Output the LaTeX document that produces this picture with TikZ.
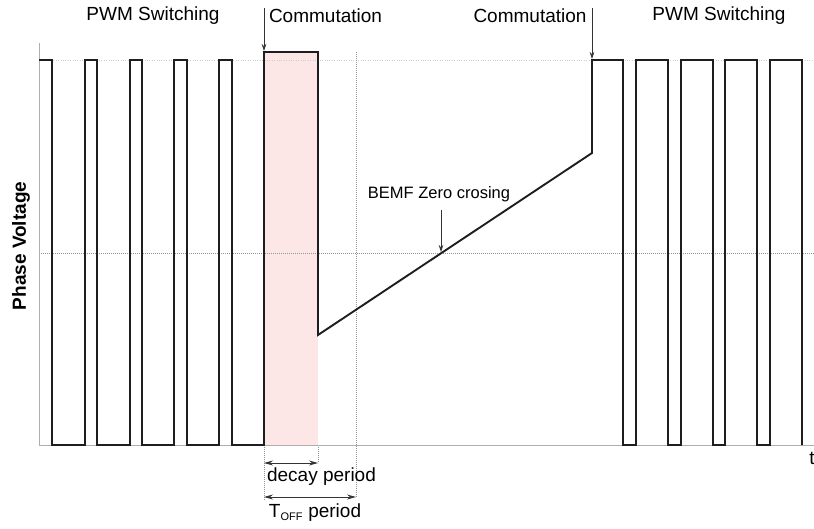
\documentclass[tikz,border=0pt]{standalone}
\usepackage{fontspec}
\setmainfont{Liberation Sans}
\usetikzlibrary{arrows.meta}
\definecolor{decaypink}{RGB}{253,230,230}
\definecolor{axisgray}{RGB}{175,175,175}
\definecolor{wave}{RGB}{30,30,30}
\begin{document}
\begin{tikzpicture}[x=1pt,y=-1pt,
  label/.style={font=\fontsize{19}{22}\selectfont, inner sep=0pt},
  smalllabel/.style={font=\fontsize{16.5}{19}\selectfont, inner sep=0pt},
  signal/.style={draw=wave, line width=1.9pt, line join=miter},
  guide/.style={draw=gray!85, line width=0.6pt, dash pattern=on 0.6pt off 1.4pt},
  faintguide/.style={draw=gray!40, line width=0.6pt, dash pattern=on 0.6pt off 1.8pt},
  axisline/.style={draw=axisgray, line width=0.9pt},
  marker/.style={draw=black!80, line width=0.7pt, -{Stealth[length=7pt,width=4.5pt]}},
  span/.style={draw=black!80, line width=0.9pt, {Stealth[length=9pt,width=5pt]}-{Stealth[length=9pt,width=5pt]}}]
\useasboundingbox (0,0) rectangle (814,529);

% decay interval after commutation
\fill[decaypink] (264,52) rectangle (318,445);

% reference levels
\draw[faintguide] (39,60) -- (814,60);
\draw[guide] (39,253) -- (814,253);
\draw[guide] (356,52) -- (356,497);
\draw[guide] (264,445) -- (264,500);
\draw[guide] (318,445) -- (318,463);

% axes
\draw[axisline] (39,43) -- (39,445) -- (814,445);

% phase voltage waveform
\draw[signal] (39,60)
  -- (52,60) -- (52,445) -- (85,445) -- (85,60)
  -- (97,60) -- (97,445) -- (130,445) -- (130,60)
  -- (142,60) -- (142,445) -- (174,445) -- (174,60)
  -- (187,60) -- (187,445) -- (219,445) -- (219,60)
  -- (232,60) -- (232,445) -- (264,445)
  -- (264,52) -- (318,52) -- (318,335)
  -- (592,153) -- (592,60)
  -- (623,60) -- (623,445) -- (636,445) -- (636,60)
  -- (668,60) -- (668,445) -- (681,445) -- (681,60)
  -- (713,60) -- (713,445) -- (725,445) -- (725,60)
  -- (757,60) -- (757,445) -- (770,445) -- (770,60)
  -- (802,60) -- (802,445);

% event markers
\coordinate (comA) at (264,8);
\coordinate (comAend) at (264,51);
\coordinate (comB) at (592,8);
\coordinate (comBend) at (592,59);
\coordinate (zcA) at (441,210);
\coordinate (zcB) at (441,252);
\draw[marker] (comA) -- (comAend);
\draw[marker] (comB) -- (comBend);
\draw[marker] (zcA) -- (zcB);

% interval dimensions
\coordinate (decA) at (264,463);
\coordinate (decB) at (318,463);
\coordinate (offA) at (264,497);
\coordinate (offB) at (356,497);
\draw[span] (decA) -- (decB);
\draw[span] (offA) -- (offB);

% labels
\node[label] (pwmL) at (153,16) {PWM Switching};
\node[label] (comL) at (325.5,16) {Commutation};
\node[label] (comR) at (530,16) {Commutation};
\node[label] (pwmR) at (719,16) {PWM Switching};
\node[smalllabel] (bemf) at (439,194) {BEMF Zero crosing};
\node[label] (decay) at (321.5,477) {decay period};
\node[label] (toff) at (315,513) {T\textsubscript{\fontsize{11}{11}\selectfont OFF} period};
\node[label, font=\fontsize{19}{22}\selectfont\bfseries, rotate=90] (ylab) at (21,246) {Phase Voltage};
\node[label] (tlab) at (812,458) {t};
\end{tikzpicture}
\end{document}
